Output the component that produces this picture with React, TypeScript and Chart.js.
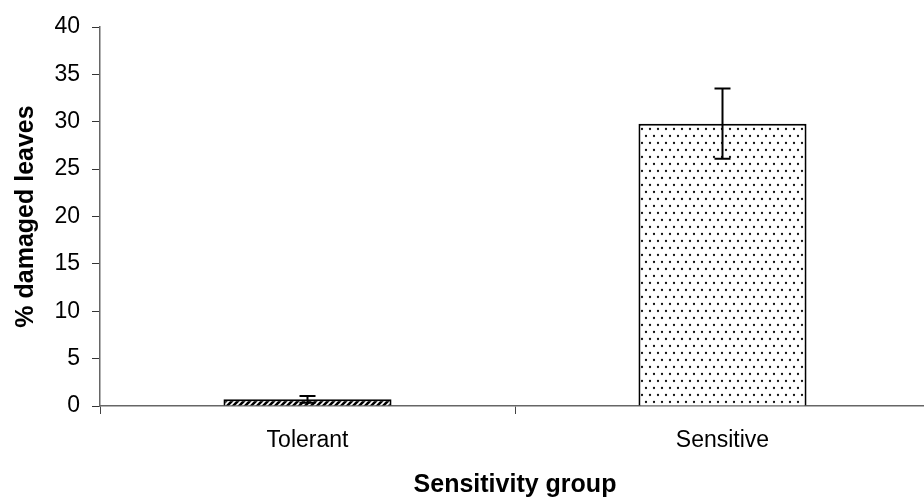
import { useEffect, useRef } from "react";
import { Chart, registerables } from "chart.js";

Chart.register(...registerables);

// Mean % of damaged leaves per sensitivity group, with error (± half-range)
const groups = ["Tolerant", "Sensitive"];
const damagedMeans = [0.7, 29.8];
const damagedErrors = [0.35, 3.7];
const yMin = 0;
const yMax = 40;
const yStep = 5;

const FONT = "'Liberation Sans', Arial, Helvetica, sans-serif";

function makeTile(w: number, h: number, paint: (c: CanvasRenderingContext2D) => void): CanvasPattern | string {
  const tile = document.createElement("canvas");
  tile.width = w;
  tile.height = h;
  const c = tile.getContext("2d");
  if (!c) return "#000";
  paint(c);
  const p = c.createPattern(tile, "repeat");
  return p ?? "#000";
}

// Black fill crossed with thin white forward slashes
function hatchFill() {
  return makeTile(6, 6, (c) => {
    c.fillStyle = "#000";
    c.fillRect(0, 0, 6, 6);
    c.strokeStyle = "#fff";
    c.lineWidth = 1.6;
    c.beginPath();
    c.moveTo(-1, 7);
    c.lineTo(7, -1);
    c.moveTo(5, 7);
    c.lineTo(13, -1);
    c.moveTo(-7, 7);
    c.lineTo(1, -1);
    c.stroke();
  });
}

// White fill with a staggered grid of small black dots
function dotFill() {
  return makeTile(8, 14, (c) => {
    c.fillStyle = "#fff";
    c.fillRect(0, 0, 8, 14);
    c.fillStyle = "#111";
    c.beginPath();
    c.arc(2, 3, 1.15, 0, Math.PI * 2);
    c.arc(6, 10, 1.15, 0, Math.PI * 2);
    c.fill();
  });
}

const errorBars = {
  id: "errorBars",
  afterDatasetsDraw(chart: Chart) {
    const { ctx } = chart;
    const y = chart.scales.y;
    const meta = chart.getDatasetMeta(0);
    meta.data.forEach((bar: any, i: number) => {
      const x = bar.x;
      const top = y.getPixelForValue(damagedMeans[i] + damagedErrors[i]);
      const bottom = y.getPixelForValue(damagedMeans[i] - damagedErrors[i]);
      const half = 8;
      ctx.save();
      ctx.strokeStyle = "#000";
      ctx.lineWidth = 2;
      ctx.beginPath();
      ctx.moveTo(x, top);
      ctx.lineTo(x, bottom);
      ctx.moveTo(x - half, top);
      ctx.lineTo(x + half, top);
      ctx.moveTo(x - half, bottom);
      ctx.lineTo(x + half, bottom);
      ctx.stroke();
      ctx.restore();
    });
  },
};

export default function App() {
  const canvasRef = useRef<HTMLCanvasElement | null>(null);

  useEffect(() => {
    const canvas = canvasRef.current;
    if (!canvas) return;
    const chart = new Chart(canvas, {
      type: "bar",
      data: {
        labels: groups,
        datasets: [
          {
            data: damagedMeans,
            backgroundColor: [hatchFill(), dotFill()] as any,
            borderColor: "#000",
            borderWidth: 2,
            categoryPercentage: 1,
            barPercentage: 0.405,
          },
        ],
      },
      options: {
        responsive: false,
        animation: false,
        devicePixelRatio: 1,
        layout: { padding: { top: 27, right: 0, bottom: 0, left: 0 } },
        plugins: {
          legend: { display: false },
          tooltip: { enabled: false },
        },
        scales: {
          x: {
            grid: {
              offset: true,
              drawOnChartArea: false,
              drawTicks: true,
              tickLength: 8,
              color: "#444",
            },
            border: { color: "#666", width: 1.5 },
            ticks: {
              color: "#000",
              font: { family: FONT, size: 23 },
              padding: 13,
            },
            title: {
              display: true,
              text: "Sensitivity group",
              color: "#000",
              font: { family: FONT, size: 25, weight: "bold" },
              padding: { top: 0, bottom: 4 },
            },
            afterFit: (s: any) => {
              s.height = 98;
            },
          },
          y: {
            min: yMin,
            max: yMax,
            grid: {
              drawOnChartArea: false,
              drawTicks: true,
              tickLength: 8,
              color: "#333",
            },
            border: { color: "#666", width: 1.5 },
            ticks: {
              stepSize: yStep,
              color: "#000",
              font: { family: FONT, size: 23 },
              padding: 12,
            },
            title: {
              display: true,
              text: "% damaged leaves",
              color: "#000",
              font: { family: FONT, size: 25, weight: "bold" },
              padding: { top: 11, bottom: 0 },
            },
            afterFit: (s: any) => {
              s.width = 100;
            },
          },
        },
      },
      plugins: [errorBars],
    });
    return () => chart.destroy();
  }, []);

  return (
    <div
      style={{
        position: "fixed",
        left: 0,
        top: 0,
        width: 924,
        height: 504,
        overflow: "hidden",
        background: "#fff",
      }}
    >
      <canvas ref={canvasRef} width={930} height={504} style={{ display: "block" }} />
    </div>
  );
}
